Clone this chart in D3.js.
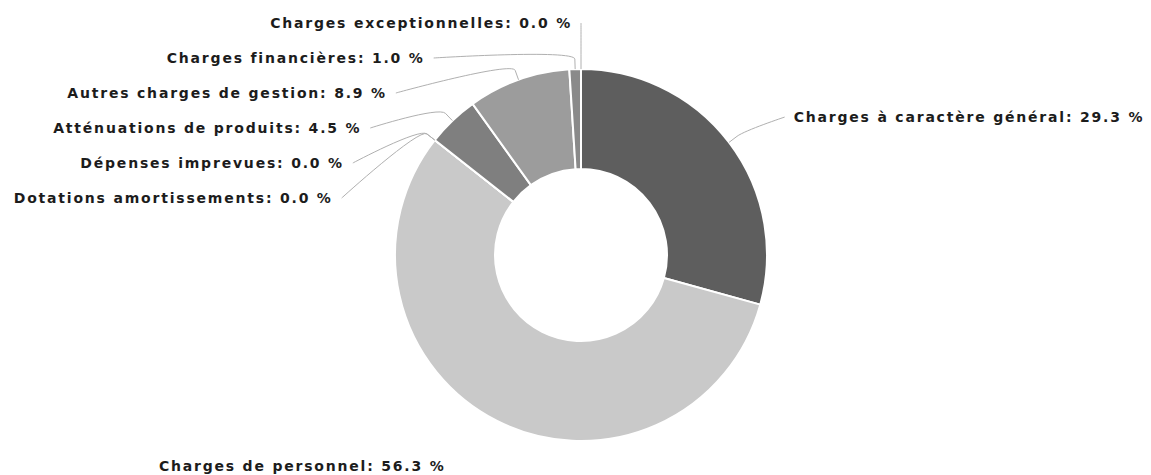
<!DOCTYPE html>
<html>
<head>
<meta charset="utf-8">
<script src="https://cdn.jsdelivr.net/npm/d3@7"></script>
<style>
  html, body { margin: 0; padding: 0; background: #ffffff; }
  svg { display: block; }
  .lbl { font-family: "DejaVu Sans", Verdana, sans-serif; font-weight: bold; font-size: 14px; letter-spacing: 1.8px; fill: #1c1c1c; }
</style>
</head>
<body>
<svg id="chart" width="1151" height="475"></svg>
<script>
// Budget breakdown: share of each expense chapter (percent)
const categories = [
  "Charges à caractère général",
  "Charges de personnel",
  "Dotations amortissements",
  "Dépenses imprevues",
  "Atténuations de produits",
  "Autres charges de gestion",
  "Charges financières",
  "Charges exceptionnelles"
];
const shares = [29.3, 56.3, 0.0, 0.0, 4.5, 8.9, 1.0, 0.0];
const sliceColors = ["#5e5e5e", "#c9c9c9", "#b4b4b4", "#a4a4a4", "#7f7f7f", "#9c9c9c", "#8a8a8a", "#6e6e6e"];

const data = categories.map((name, i) => ({ name, value: shares[i], color: sliceColors[i] }));

const svg = d3.select("#chart");
const cx = 581, cy = 255;
const rOuter = 186, rInner = 86;

// label layout parameters
const labelR = 246;      // radius on which labels sit
const yShift = 11;       // text centre offset from the geometric point
const padding = 9;       // gap between connector start and text
const rowGap = 35;       // minimal vertical distance between stacked labels
const topY = 23, bottomY = 466;
const breakOffset = 10;  // second connector break, just outside the ring

const pie = d3.pie().sort(null).value(d => d.value).startAngle(0).endAngle(2 * Math.PI);
const arcs = pie(data);
const arcGen = d3.arc().innerRadius(rInner).outerRadius(rOuter);

const g = svg.append("g").attr("transform", `translate(${cx},${cy})`);

g.selectAll("path.slice")
  .data(arcs)
  .join("path")
  .attr("class", "slice")
  .attr("d", arcGen)
  .attr("fill", d => d.data.color)
  .attr("stroke", "#ffffff")
  .attr("stroke-width", 2)
  .attr("stroke-linejoin", "round");

// ---- label placement ----
const polar = (r, a) => [cx + r * Math.sin(a), cy - r * Math.cos(a)];

const items = arcs.map((a, i) => {
  const mid = (a.startAngle + a.endAngle) / 2;
  const [nx, ny0] = polar(labelR, mid);
  return { i, a, mid, left: mid > Math.PI, nx, ny: ny0 + yShift };
});

function distribute(list) {
  // forward pass from the top
  list.forEach((it, k) => {
    const minY = k === 0 ? topY : list[k - 1].y + rowGap;
    it.y = Math.max(it.ny, minY);
    it.atTop = k === 0 && it.ny < topY;
  });
  // backward pass from the bottom
  for (let k = list.length - 1; k >= 0; k--) {
    const maxY = k === list.length - 1 ? bottomY : list[k + 1].y - rowGap;
    if (k === list.length - 1 && list[k].y > bottomY) list[k].clipped = true;
    list[k].y = Math.min(list[k].y, maxY);
  }
}

const leftItems = items.filter(d => d.left).sort((p, q) => (q.mid - p.mid) || (q.i - p.i));
const rightItems = items.filter(d => !d.left).sort((p, q) => (p.mid - q.mid) || (p.i - q.i));
distribute(leftItems);
distribute(rightItems);

items.forEach(it => {
  if (it.atTop) {
    it.x = it.nx;
  } else {
    const dy = Math.max(-labelR, Math.min(labelR, it.y - cy));
    const dx = Math.sqrt(labelR * labelR - dy * dy);
    it.x = it.left ? cx - dx : cx + dx;
  }
  it.edge = polar(rOuter, it.mid);
  it.brk = polar(rOuter + breakOffset, it.mid);
});

// connectors
svg.append("g")
  .selectAll("path")
  .data(items.filter(d => !d.clipped))
  .join("path")
  .attr("d", d => {
    const c2x = 2 * d.brk[0] - d.edge[0], c2y = 2 * d.brk[1] - d.edge[1];
    return `M${d.x},${d.y}C${d.x},${d.y} ${c2x},${c2y} ${d.brk[0]},${d.brk[1]}L${d.edge[0]},${d.edge[1]}`;
  })
  .attr("fill", "none")
  .attr("stroke", "#b0b0b0")
  .attr("stroke-width", 1);

// label texts
svg.append("g")
  .selectAll("text")
  .data(items)
  .join("text")
  .attr("class", "lbl")
  .attr("x", d => d.left ? d.x - padding : d.x + padding)
  .attr("y", d => d.y)
  .attr("dy", "0.36em")
  .attr("text-anchor", d => d.left ? "end" : "start")
  .text(d => `${d.a.data.name}: ${d.a.data.value.toFixed(1)} %`);
</script>
</body>
</html>
